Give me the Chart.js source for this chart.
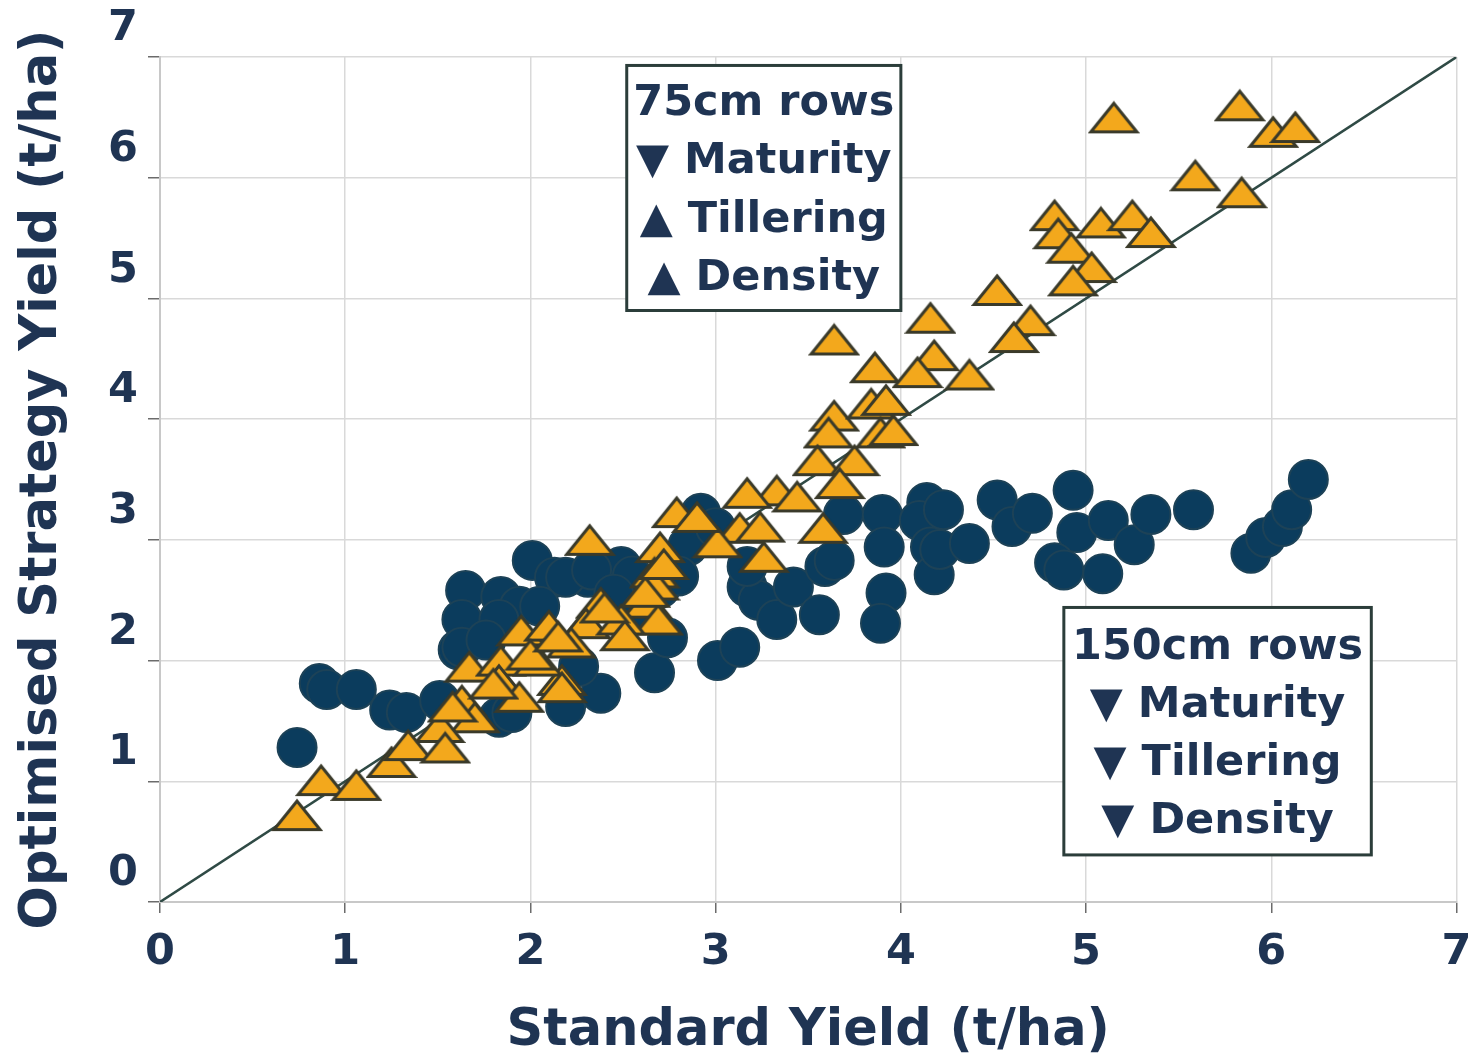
<!DOCTYPE html>
<html>
<head>
<meta charset="utf-8">
<script src="https://cdn.jsdelivr.net/npm/chart.js@4/dist/chart.umd.min.js"></script>
<style>
html,body{margin:0;padding:0;background:#fff;}
#wrap{position:relative;width:1478px;height:1062px;}
</style>
</head>
<body>
<div id="wrap"><canvas id="c" width="1478" height="1062"></canvas></div>
<script>
// ---- Data (t/ha) ----
const rows75X = [5.83,5.15,6.01,6.13,5.59,5.84,4.83,4.85,5.08,5.25,5.35,4.92,5.03,4.93,4.52,4.70,4.61,
  3.64,4.16,3.86,4.18,4.09,4.37,3.64,3.84,3.92,3.61,3.89,3.96,3.55,3.75,3.67,3.33,3.17,3.44,3.13,3.24,
  3.01,3.26,3.58,2.79,2.90,2.32,2.70,2.67,2.67,2.63,2.69,2.38,2.30,2.49,2.51,2.22,2.17,1.95,2.10,2.40,
  1.67,1.84,2.04,1.83,2.17,1.94,1.63,1.70,1.51,0.74,0.87,1.06,1.25,1.34,1.54,1.58,1.80,2.00,2.15,2.62,2.72];
const rows75Y = [6.60,6.50,6.38,6.42,6.02,5.88,5.69,5.54,5.63,5.69,5.55,5.42,5.26,5.15,5.07,4.82,4.68,
  4.66,4.84,4.43,4.53,4.39,4.37,4.03,4.13,4.16,3.89,3.89,3.91,3.66,3.66,3.47,3.41,3.39,3.36,3.10,3.11,
  2.98,2.86,3.10,3.23,3.19,3.00,2.94,2.73,2.63,2.48,2.34,2.48,2.31,2.34,2.21,2.15,1.84,2.25,2.29,2.44,
  1.95,2.00,2.00,1.84,1.78,1.70,1.67,1.53,1.45,0.72,1.01,0.97,1.16,1.30,1.28,1.62,1.81,2.05,2.20,2.57,2.80];

const rows150X = [0.74,0.86,0.90,1.06,1.24,1.33,1.51,1.61,1.83,1.90,1.65,1.84,1.94,1.63,1.83,1.63,1.76,
  2.01,2.13,2.31,2.49,2.19,2.33,2.19,2.38,2.26,2.67,2.74,2.92,2.85,3.01,3.13,3.17,3.23,3.33,3.42,3.56,
  3.17,3.59,3.64,3.69,3.90,4.14,4.10,3.91,4.16,4.18,3.92,3.89,4.23,4.21,4.37,4.52,4.60,4.71,4.93,4.95,
  4.83,4.88,5.09,5.12,5.26,5.35,5.58,5.89,5.97,6.06,6.11,6.20,2.55,2.70,2.45,2.60,2.05,2.80,3.00];
const rows150Y = [1.28,1.81,1.76,1.76,1.59,1.57,1.67,2.09,1.53,1.57,2.58,2.53,2.45,2.34,2.34,2.11,2.17,
  2.83,2.69,2.69,2.78,2.69,2.75,1.62,1.73,1.95,1.90,2.19,3.22,2.95,2.00,2.11,2.61,2.50,2.34,2.61,2.38,
  2.78,2.78,2.83,3.21,3.21,3.31,3.16,2.94,2.94,2.71,2.56,2.31,3.25,2.92,2.97,3.33,3.11,3.22,3.41,3.06,
  2.81,2.75,2.72,3.16,2.96,3.21,3.25,2.89,3.02,3.11,3.25,3.50,2.70,2.60,2.55,2.40,2.45,2.70,3.10];

const oneToOneX = [0, 7];
const oneToOneY = [0, 7];
const axisTicks = [0, 1, 2, 3, 4, 5, 6, 7];

const xTitle = 'Standard Yield (t/ha)';
const yTitle = 'Optimised Strategy Yield (t/ha)';
const box75Lines = ['75cm rows', '▼ Maturity', '▲ Tillering', '▲ Density'];
const box150Lines = ['150cm rows', '▼ Maturity', '▼ Tillering', '▼ Density'];

// ---- styling ----
const NAVY_TXT = '#1f3453';
const FONT = "'DejaVu Sans', 'Liberation Sans', Arial, sans-serif";

function zip(xs, ys) { return xs.map((x, i) => ({x: x, y: ys[i]})); }

function makeTriangle(w, h, fill, stroke, lw) {
  const c = document.createElement('canvas');
  c.width = w; c.height = h;
  const g = c.getContext('2d');
  g.beginPath();
  g.moveTo(w / 2, lw);
  g.lineTo(w - lw, h - lw / 1.2);
  g.lineTo(lw, h - lw / 1.2);
  g.closePath();
  g.fillStyle = fill; g.fill();
  g.lineJoin = 'miter';
  g.lineWidth = lw; g.strokeStyle = stroke; g.stroke();
  return c;
}
const triImg = makeTriangle(52, 34, '#f3a81c', '#3a3a2a', 3);

const boxPlugin = {
  id: 'textBoxes',
  afterDatasetsDraw(chart) {
    const ctx = chart.ctx;
    const xs = chart.scales.x, ys = chart.scales.y;
    function drawBox(x0, y0, x1, y1, lines, firstY, step) {
      const px0 = xs.getPixelForValue(x0), px1 = xs.getPixelForValue(x1);
      const py0 = ys.getPixelForValue(y0), py1 = ys.getPixelForValue(y1);
      ctx.save();
      ctx.fillStyle = '#ffffff';
      ctx.fillRect(px0, py0, px1 - px0, py1 - py0);
      ctx.lineWidth = 3;
      ctx.strokeStyle = '#2b3d3a';
      ctx.strokeRect(px0, py0, px1 - px0, py1 - py0);
      ctx.fillStyle = NAVY_TXT;
      ctx.font = 'bold 43px ' + FONT;
      ctx.textAlign = 'center';
      ctx.textBaseline = 'middle';
      const cx = (px0 + px1) / 2;
      lines.forEach((t, i) => ctx.fillText(t, cx, py0 + firstY + i * step));
      ctx.restore();
    }
    // box corners in data units
    drawBox(2.52, 6.93, 4.0, 4.90, box75Lines, 38, 58.5);
    drawBox(4.88, 2.44, 6.54, 0.39, box150Lines, 40, 58);
  }
};

new Chart(document.getElementById('c'), {
  type: 'scatter',
  data: {
    datasets: [
      {
        label: '75cm rows',
        data: zip(rows75X, rows75Y),
        pointStyle: triImg,
        pointRadius: 16,
        order: 1
      },
      {
        label: '150cm rows',
        data: zip(rows150X, rows150Y),
        pointStyle: 'circle',
        pointRadius: 19.5,
        backgroundColor: '#0b3c5d',
        borderColor: '#1d4257',
        borderWidth: 2,
        order: 2
      },
      {
        type: 'line',
        label: '1:1',
        data: zip(oneToOneX, oneToOneY),
        showLine: true,
        borderColor: '#2f4a45',
        borderWidth: 2.5,
        pointRadius: 0,
        fill: false,
        order: 3
      }
    ]
  },
  options: {
    responsive: false,
    animation: false,
    devicePixelRatio: 1,
    layout: { padding: { left: 0, top: 57, right: 0, bottom: 0 } },
    plugins: { legend: { display: false }, tooltip: { enabled: false } },
    scales: {
      x: {
        type: 'linear', min: 0, max: 7,
        afterBuildTicks: s => { s.ticks = axisTicks.map(v => ({value: v})); },
        afterFit: s => { s.height = 160; s.paddingRight = 10; s.paddingLeft = 0; },
        grid: { color: '#d9d9d9', lineWidth: 1.5, tickLength: 11, tickColor: '#6b6b6b', tickWidth: 1.5 },
        border: { color: '#c8c8c8', width: 2 },
        ticks: { color: NAVY_TXT, padding: 14, font: { family: FONT, size: 43, weight: 'bold' } },
        title: { display: true, text: xTitle, color: NAVY_TXT, padding: { top: 20, bottom: 0 },
                 font: { family: FONT, size: 51, weight: 'bold' } }
      },
      y: {
        type: 'linear', min: 0, max: 7,
        afterBuildTicks: s => { s.ticks = axisTicks.map(v => ({value: v})); },
        afterFit: s => { s.width = 160; s.paddingTop = 0; s.paddingBottom = 0; },
        grid: { color: '#d9d9d9', lineWidth: 1.5, tickLength: 12, tickColor: '#6b6b6b', tickWidth: 1.5 },
        border: { color: '#c8c8c8', width: 2 },
        ticks: { color: NAVY_TXT, padding: 10, labelOffset: -28, font: { family: FONT, size: 43, weight: 'bold' } },
        title: { display: true, text: yTitle, color: NAVY_TXT, padding: { top: 12, bottom: 0 },
                 font: { family: FONT, size: 51, weight: 'bold' } }
      }
    }
  },
  plugins: [boxPlugin]
});
</script>
</body>
</html>
